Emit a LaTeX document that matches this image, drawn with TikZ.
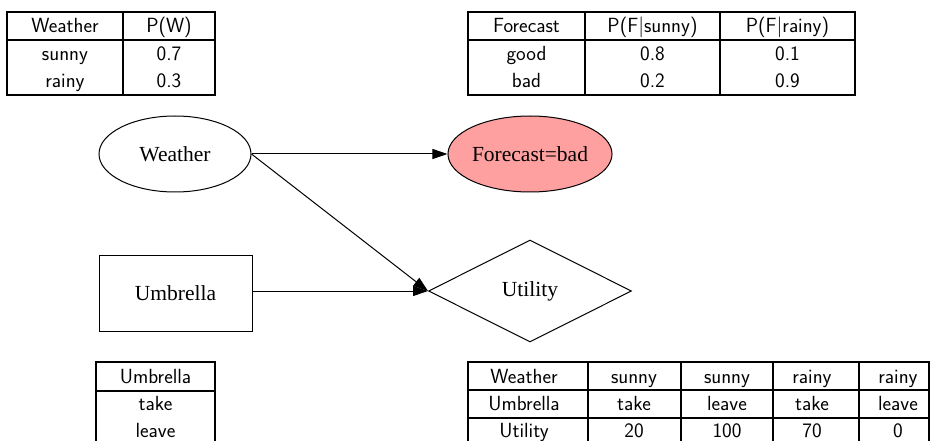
\documentclass[tikz,border=0pt]{standalone}
\usepackage{fontspec}
\newfontfamily\nodefont{Liberation Serif}
\usetikzlibrary{shapes.geometric,arrows.meta}
\definecolor{fcfill}{RGB}{255,160,160}
\begin{document}
\begin{tikzpicture}[x=1pt,y=-1pt,
  tbl/.style={line width=1.8pt},
  tt/.style={font=\fontsize{20.5}{24}\selectfont\sffamily, anchor=base, inner sep=0pt},
  gnode/.style={draw, line width=1pt, font=\fontsize{21.5}{25}\selectfont\nodefont, inner sep=0pt},
  gedge/.style={line width=1pt, -{Triangle[length=15pt,width=10pt]}}]
\useasboundingbox (0,0) rectangle (930,441);
\clip (0,0) rectangle (930,441);

% ---- Table P(W)
\draw[tbl] (7,12) rectangle (215,95);
\draw[tbl] (7,40) -- (215,40);
\draw[tbl] (123,12) -- (123,95);
\node[tt] (pw1) at (65,33) {Weather};
\node[tt] (pw2) at (169,33) {P(W)};
\node[tt] (pw3) at (65,60.5) {sunny};
\node[tt] (pw4) at (169,60.5) {0.7};
\node[tt] (pw5) at (65,87.5) {rainy};
\node[tt] (pw6) at (169,87.5) {0.3};

% ---- Table P(F|W)
\draw[tbl] (468,12) rectangle (855,95);
\draw[tbl] (468,40) -- (855,40);
\draw[tbl] (585,12) -- (585,95);
\draw[tbl] (720,12) -- (720,95);
\node[tt] (pf1) at (526.5,33) {Forecast};
\node[tt] (pf2) at (652.5,33) {P(F$|$sunny)};
\node[tt] (pf3) at (787.5,33) {P(F$|$rainy)};
\node[tt] (pf4) at (526.5,60.5) {good};
\node[tt] (pf5) at (652.5,60.5) {0.8};
\node[tt] (pf6) at (787.5,60.5) {0.1};
\node[tt] (pf7) at (526.5,87.5) {bad};
\node[tt] (pf8) at (652.5,87.5) {0.2};
\node[tt] (pf9) at (787.5,87.5) {0.9};

% ---- Table Umbrella
\draw[tbl] (96,362) rectangle (215,450);
\draw[tbl] (96,391) -- (215,391);
\node[tt] (ut1) at (155.5,383) {Umbrella};
\node[tt] (ut2) at (155.5,410) {take};
\node[tt] (ut3) at (155.5,437) {leave};

% ---- Table Utility
\draw[tbl] (468,362) rectangle (929,450);
\draw[tbl] (468,390) -- (929,390);
\draw[tbl] (468,418) -- (929,418);
\foreach \xx in {588,681,773,859} \draw[tbl] (\xx,362) -- (\xx,450);
\node[tt] (uu1) at (524,383) {Weather};
\node[tt] (uu2) at (634,383) {sunny};
\node[tt] (uu3) at (727,383) {sunny};
\node[tt] (uu4) at (812,383) {rainy};
\node[tt] (uu5) at (898,383) {rainy};
\node[tt] (uu6) at (524,410) {Umbrella};
\node[tt] (uu7) at (634,410) {take};
\node[tt] (uu8) at (727,410) {leave};
\node[tt] (uu9) at (812,410) {take};
\node[tt] (uu10) at (898,410) {leave};
\node[tt] (uu11) at (524,437) {Utility};
\node[tt] (uu12) at (634,437) {20};
\node[tt] (uu13) at (727,437) {100};
\node[tt] (uu14) at (812,437) {70};
\node[tt] (uu15) at (898,437) {0};

% ---- Graph
\node[gnode, ellipse, minimum width=152pt, minimum height=76pt] (w) at (175,154) {Weather};
\node[gnode, ellipse, fill=fcfill, minimum width=153pt, minimum height=76pt] (f) at (530,154) {Forecast=bad};
\node[gnode, rectangle, minimum width=153pt, minimum height=76pt] (u) at (175.5,293) {Umbrella};
\node[gnode, diamond, aspect=2, minimum width=203pt, minimum height=102pt] (ut) at (530,291) {Utility};

\draw[gedge] (w.east) -- (f.west);
\draw[gedge] (w.east) -- (ut.west);
\draw[gedge] (u.east |- ut.west) -- (ut.west);
\end{tikzpicture}
\end{document}
